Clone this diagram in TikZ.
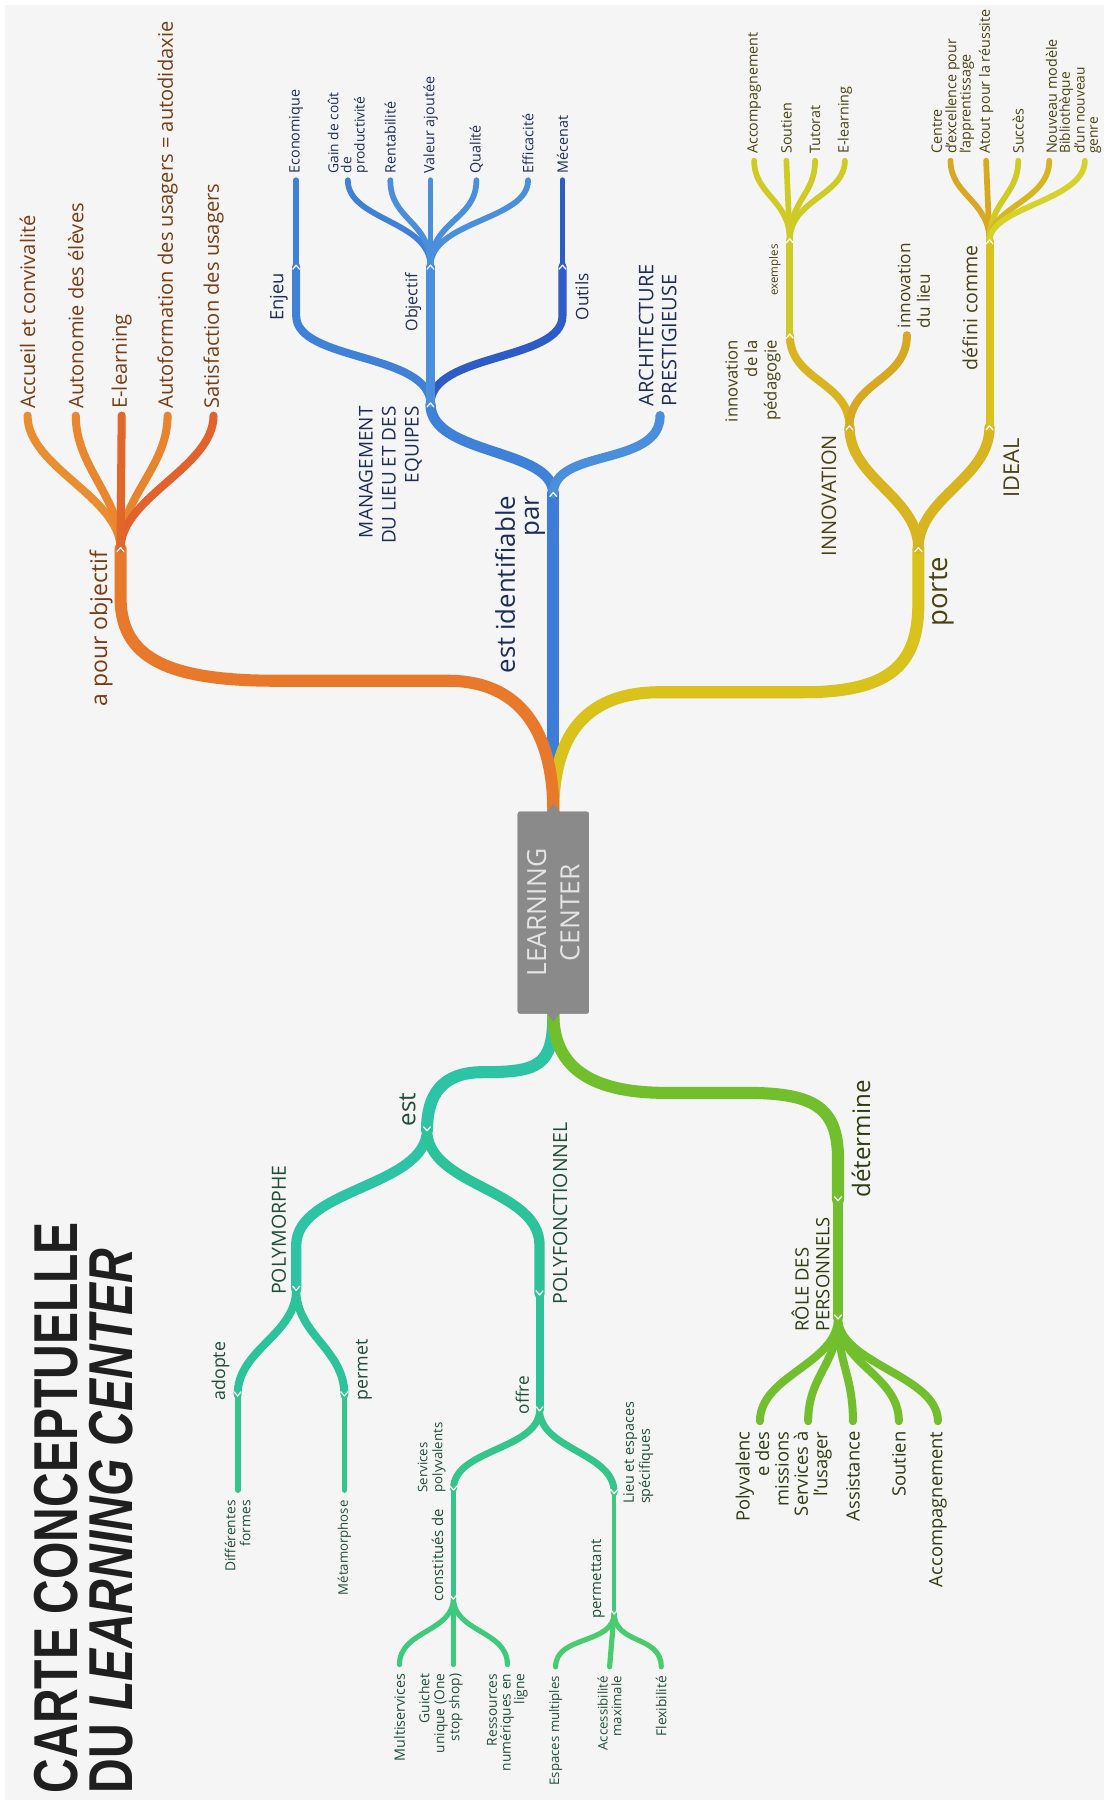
\documentclass[tikz,border=0pt]{standalone}
\usepackage{fontspec}
\usepackage{graphicx}
\setmainfont{Open Sans}
\newfontfamily\titlefont{Liberation Sans}
\definecolor{bgc}{HTML}{F5F5F5}
\definecolor{cBox}{HTML}{8A8A8A}
\definecolor{cBoxT}{HTML}{E4E4E4}
\definecolor{cOr}{HTML}{E8792A}
\definecolor{cOr1}{HTML}{EA8C30}
\definecolor{cOr2}{HTML}{E9862E}
\definecolor{cOr3}{HTML}{E2652A}
\definecolor{cOr4}{HTML}{E8832E}
\definecolor{cOr5}{HTML}{E3612A}
\definecolor{cOrT}{HTML}{7A3C12}
\definecolor{cBl}{HTML}{3B7DD8}
\definecolor{cBl2}{HTML}{3F80D9}
\definecolor{cBl3}{HTML}{4A8FDC}
\definecolor{cBl4}{HTML}{2E5CC7}
\definecolor{cBlT}{HTML}{1C2D58}
\definecolor{cYe}{HTML}{D9C21C}
\definecolor{cYe2}{HTML}{D8B520}
\definecolor{cYe3}{HTML}{D8A822}
\definecolor{cYe4}{HTML}{CFCB24}
\definecolor{cYe5}{HTML}{D6D22C}
\definecolor{cYeT}{HTML}{4A4210}
\definecolor{cTe}{HTML}{2CC4A4}
\definecolor{cTe2}{HTML}{2CC39A}
\definecolor{cTe3}{HTML}{33C58C}
\definecolor{cTe4}{HTML}{3DCA7C}
\definecolor{cTe5}{HTML}{48CC6E}
\definecolor{cTeT}{HTML}{1E4E38}
\definecolor{cGr}{HTML}{72BF2E}
\definecolor{cGrT}{HTML}{2E3C10}
\begin{document}
\begin{tikzpicture}[x=1pt,y=-1pt,
  br/.style={line width=#1, line cap=round},
  lab/.style={rotate=90, inner sep=0pt, outer sep=0pt},
  fs/.style 2 args={font=\fontsize{#1}{#2}\selectfont},
  chu/.pic={\draw[white,line width=1.1pt,line cap=round,line join=round] (-3,2.5) -- (0,-1) -- (3,2.5);},
  chd/.pic={\draw[white,line width=1.1pt,line cap=round,line join=round] (-3,-2.5) -- (0,1) -- (3,-2.5);}
]
\useasboundingbox (0,0) rectangle (962,1568);
\fill[white] (0,0) rectangle (962,1568);
\fill[bgc] (4,4) rectangle (962,1568);

% ---------- title ----------
\node[lab, anchor=north west, align=left, text=black!88,
      font={\titlefont\bfseries\fontsize{54}{48}\selectfont}] (title) at (30,1562)
  {\scalebox{0.775}[1]{CARTE CONCEPTUELLE}\\\scalebox{0.775}[1]{DU \textit{LEARNING CENTER}}};

% ---------- central box ----------
\node[rotate=90, fill=cBox, rounded corners=2, minimum width=176, minimum height=62,
      inner sep=0pt] (lc) at (482,795) {};
\coordinate (ct) at (lc.east);
\coordinate (cb) at (lc.west);

% ---------- blue ----------
\coordinate (b1) at (482,430);
\coordinate (b2) at (375,352);
\coordinate (b3) at (575,362);
\coordinate (e1) at (258,232);
\coordinate (ob) at (375,232);
\coordinate (ou) at (490,232);
\coordinate (bl1) at (258,157);
\coordinate (bl2) at (303,157);
\coordinate (bl3) at (340,157);
\coordinate (bl4) at (375,157);
\coordinate (bl5) at (415,157);
\coordinate (bl6) at (460,157);
\coordinate (bl7) at (490,157);
\draw[br=10.5, cBl] (ct) -- (b1);
\draw[br=9, cBl2] (b1) .. controls +(0,-40) and +(0,45) .. (b2);
\draw[br=8, cBl3] (b1) .. controls +(0,-40) and +(0,45) .. (b3);
\draw[br=7, cBl2] (b2) .. controls +(0,-45) and +(0,40) .. (258,275) -- (e1);
\draw[br=7, cBl4] (b2) .. controls +(0,-45) and +(0,40) .. (490,275) -- (ou);
\draw[br=7, cBl3] (b2) -- (ob);
\draw[br=5, cBl2] (e1) -- (bl1);
\draw[br=5, cBl4] (ou) -- (bl7);
\draw[br=5, cBl2] (ob) .. controls +(0,-40) and +(0,35) .. (bl2);
\draw[br=5, cBl3] (ob) .. controls +(0,-40) and +(0,35) .. (bl3);
\draw[br=5, cBl3] (ob) -- (bl4);
\draw[br=5, cBl3] (ob) .. controls +(0,-40) and +(0,35) .. (bl5);
\draw[br=5, cBl3] (ob) .. controls +(0,-40) and +(0,35) .. (bl6);

% ---------- yellow ----------
\coordinate (y1) at (800,478);
\coordinate (y2) at (740,372);
\coordinate (y3) at (862,372);
\coordinate (y4) at (688,292);
\coordinate (y5) at (790,292);
\coordinate (y6) at (688,209);
\coordinate (y7) at (862,210);
\coordinate (ya1) at (657,140);
\coordinate (ya2) at (685,140);
\coordinate (ya3) at (710,140);
\coordinate (ya4) at (736,140);
\coordinate (yb1) at (828,140);
\coordinate (yb2) at (859,140);
\coordinate (yb3) at (887,140);
\coordinate (yb4) at (914,140);
\coordinate (yb5) at (945,140);
\draw[br=10.5, cYe] (ct) .. controls +(0,-60) and +(-70,0) .. (575,603) -- (700,603) .. controls +(80,0) and +(0,50) .. (800,525) -- (y1);
\draw[br=9, cYe2] (y1) .. controls +(0,-45) and +(0,45) .. (y2);
\draw[br=9, cYe2] (y1) .. controls +(0,-45) and +(0,45) .. (y3);
\draw[br=7, cYe2] (y2) .. controls +(0,-40) and +(0,40) .. (y4);
\draw[br=7, cYe3] (y2) .. controls +(0,-40) and +(0,40) .. (y5);
\draw[br=6, cYe4] (y4) -- (y6);
\draw[br=7, cYe] (y3) -- (y7);
\draw[br=5, cYe4] (y6) .. controls +(0,-35) and +(0,30) .. (ya1);
\draw[br=5, cYe4] (y6) -- (ya2);
\draw[br=5, cYe4] (y6) .. controls +(0,-35) and +(0,30) .. (ya3);
\draw[br=5, cYe4] (y6) .. controls +(0,-35) and +(0,30) .. (ya4);
\draw[br=5, cYe3] (y7) .. controls +(0,-35) and +(0,30) .. (yb1);
\draw[br=5, cYe3] (y7) -- (yb2);
\draw[br=5, cYe4] (y7) .. controls +(0,-35) and +(0,30) .. (yb3);
\draw[br=5, cYe2] (y7) .. controls +(0,-30) and +(0,35) .. (yb4);
\draw[br=5, cYe5] (y7) .. controls +(0,-30) and +(0,35) .. (yb5);

% ---------- orange ----------
\coordinate (o1) at (105,478);
\coordinate (oa1) at (24,362);
\coordinate (oa2) at (66,362);
\coordinate (oa3) at (106,362);
\coordinate (oa4) at (146,362);
\coordinate (oa5) at (186,362);
\draw[br=10.5, cOr] (ct) .. controls +(0,-60) and +(70,0) .. (390,593) -- (240,593) .. controls +(-100,0) and +(0,50) .. (105,520) -- (o1);
\draw[br=7, cOr1] (o1) .. controls +(0,-45) and +(0,45) .. (oa1);
\draw[br=7, cOr2] (o1) .. controls +(0,-45) and +(0,45) .. (oa2);
\draw[br=7, cOr4] (o1) .. controls +(0,-45) and +(0,45) .. (oa4);
\draw[br=7, cOr5] (o1) .. controls +(0,-45) and +(0,45) .. (oa5);
\draw[br=7, cOr3] (o1) -- (oa3);

% ---------- teal ----------
\coordinate (t1) at (372,984);
\coordinate (t2) at (258,1123);
\coordinate (t3) at (470,1127);
\coordinate (t4) at (207,1215);
\coordinate (t5) at (300,1215);
\coordinate (t6) at (470,1228);
\coordinate (t7) at (395,1297);
\coordinate (t8) at (395,1392);
\coordinate (t9) at (535,1300);
\coordinate (t10) at (535,1405);
\coordinate (tl1) at (207,1298);
\coordinate (tl2) at (300,1298);
\coordinate (tc1) at (348,1450);
\coordinate (tc2) at (395,1450);
\coordinate (tc3) at (442,1450);
\coordinate (td1) at (484,1452);
\coordinate (td2) at (531,1452);
\coordinate (td3) at (576,1452);
\draw[br=10.5, cTe] (cb) .. controls +(0,45) and +(50,0) .. (420,934) .. controls +(-35,0) and +(0,-30) .. (t1);
\draw[br=9, cTe] (t1) .. controls +(0,50) and +(0,-50) .. (258,1085) -- (t2);
\draw[br=9, cTe2] (t1) .. controls +(0,50) and +(0,-50) .. (470,1085) -- (t3);
\draw[br=7, cTe2] (t2) .. controls +(0,40) and +(0,-40) .. (t4);
\draw[br=7, cTe2] (t2) .. controls +(0,40) and +(0,-40) .. (t5);
\draw[br=5, cTe3] (t4) -- (tl1);
\draw[br=5, cTe3] (t5) -- (tl2);
\draw[br=7, cTe2] (t3) -- (t6);
\draw[br=6, cTe3] (t6) .. controls +(0,35) and +(0,-35) .. (t7);
\draw[br=6, cTe3] (t6) .. controls +(0,35) and +(0,-35) .. (t9);
\draw[br=5, cTe3] (t7) -- (t8);
\draw[br=4, cTe4] (t9) -- (t10);
\draw[br=4.5, cTe4] (t8) .. controls +(0,30) and +(0,-30) .. (tc1);
\draw[br=4.5, cTe4] (t8) -- (tc2);
\draw[br=4.5, cTe4] (t8) .. controls +(0,30) and +(0,-30) .. (tc3);
\draw[br=4.5, cTe5] (t10) .. controls +(0,28) and +(0,-28) .. (td1);
\draw[br=4.5, cTe5] (t10) -- (td2);
\draw[br=4.5, cTe5] (t10) .. controls +(0,28) and +(0,-28) .. (td3);

% ---------- green ----------
\coordinate (g1) at (730,1045);
\coordinate (g2) at (730,1148);
\coordinate (ga1) at (662,1238);
\coordinate (ga2) at (704,1238);
\coordinate (ga3) at (743,1238);
\coordinate (ga4) at (783,1238);
\coordinate (ga5) at (817,1238);
\draw[br=10.5, cGr] (cb) .. controls +(0,50) and +(-60,0) .. (580,952) -- (650,952) .. controls +(60,0) and +(0,-45) .. (730,1010) -- (g1);
\draw[br=9, cGr] (g1) -- (g2);
\draw[br=7, cGr] (g2) .. controls +(0,40) and +(0,-40) .. (ga1);
\draw[br=7, cGr] (g2) .. controls +(0,40) and +(0,-40) .. (ga2);
\draw[br=7, cGr] (g2) .. controls +(0,40) and +(0,-40) .. (ga3);
\draw[br=7, cGr] (g2) .. controls +(0,40) and +(0,-40) .. (ga4);
\draw[br=7, cGr] (g2) .. controls +(0,40) and +(0,-40) .. (ga5);

% box on top of branch starts
\node[rotate=90, fill=cBox, rounded corners=2, minimum width=176, minimum height=62,
      inner sep=0pt, text=cBoxT, align=center, fs={23}{29}] (lc2) at (lc.center) {LEARNING\\CENTER};
\fill[cBox] (476,708) -- (482,700) -- (488,708) -- cycle;
\fill[cBox] (476,882) -- (482,890) -- (488,882) -- cycle;

% ---------- chevrons ----------
\foreach \p in {o1,b1,b2,e1,ob,ou,y1,y2,y3,y4,y6,y7} \pic at (\p) {chu};
\foreach \p in {t1,t2,t3,t4,t5,t6,t7,t8,t9,t10,g1,g2} \pic at (\p) {chd};

% ---------- orange labels ----------
\begin{scope}[every node/.style={lab, text=cOrT}]
\node[anchor=east, fs={20}{22}] (l-apo) at (88,480) {a pour objectif};
\node[anchor=west, fs={17.5}{20}] (l-acc) at ([yshift=6pt]oa1) {Accueil et convivalité};
\node[anchor=west, fs={17.5}{20}] (l-aut) at ([yshift=6pt]oa2) {Autonomie des élèves};
\node[anchor=west, fs={17.5}{20}] (l-el) at ([yshift=6pt]oa3) {E-learning};
\node[anchor=west, fs={17.5}{20}] (l-af) at ([yshift=6pt]oa4) {Autoformation des usagers = autodidaxie};
\node[anchor=west, fs={17.5}{20}] (l-sat) at ([yshift=6pt]oa5) {Satisfaction des usagers};
\end{scope}

% ---------- blue labels ----------
\begin{scope}[every node/.style={lab, text=cBlT}]
\node[anchor=east, align=right, fs={22.5}{21}] (l-eip) at (453,432) {est identifiable\\par};
\node[anchor=east, align=right, fs={16.5}{20}] (l-man) at (340,354) {MANAGEMENT\\DU LIEU ET DES\\EQUIPES};
\node[anchor=west, align=left, fs={17.5}{20}] (l-arc) at (573,354) {ARCHITECTURE\\PRESTIGIEUSE};
\node[anchor=east, fs={16}{18}] (l-enj) at (243,238) {Enjeu};
\node[anchor=east, fs={14}{16}] (l-obj) at (360,238) {Objectif};
\node[anchor=east, fs={15}{17}] (l-out) at (507,238) {Outils};
\node[anchor=west, fs={12.5}{14}] (l-eco) at ([yshift=6pt]bl1) {Economique};
\node[anchor=west, align=left, fs={12}{11.5}] (l-gain) at ([yshift=6pt]bl2) {Gain de coût\\de\\productivité};
\node[anchor=west, fs={12.5}{14}] (l-ren) at ([yshift=6pt]bl3) {Rentabilité};
\node[anchor=west, fs={12.5}{14}] (l-val) at ([yshift=6pt]bl4) {Valeur ajoutée};
\node[anchor=west, fs={12.5}{14}] (l-qua) at ([yshift=6pt]bl5) {Qualité};
\node[anchor=west, fs={12.5}{14}] (l-eff) at ([yshift=6pt]bl6) {Efficacité};
\node[anchor=west, fs={12.5}{14}] (l-mec) at ([yshift=6pt]bl7) {Mécenat};
\end{scope}

% ---------- yellow labels ----------
\begin{scope}[every node/.style={lab, text=cYeT}]
\node[anchor=east, fs={24}{26}] (l-por) at (820,485) {porte};
\node[anchor=east, fs={17.5}{19}] (l-inn) at (722,379) {INNOVATION};
\node[anchor=east, fs={19}{21}] (l-ide) at (881,382) {IDEAL};
\node[anchor=east, align=right, fs={14.5}{17}] (l-ipe) at (656,296) {innovation\\de la\\pédagogie};
\node[anchor=west, align=left, fs={15}{17}] (l-ili) at (796,286) {innovation\\du lieu};
\node[anchor=east, fs={10}{12}] (l-exe) at (675,213) {exemples};
\node[anchor=east, fs={17}{19}] (l-def) at (845,214) {défini comme};
\node[anchor=west, fs={12.5}{14}] (l-acc2) at ([yshift=6pt]ya1) {Accompagnement};
\node[anchor=west, fs={12.5}{14}] (l-sou) at ([yshift=6pt]ya2) {Soutien};
\node[anchor=west, fs={12.5}{14}] (l-tut) at ([yshift=6pt]ya3) {Tutorat};
\node[anchor=west, fs={12.5}{14}] (l-el2) at ([yshift=6pt]ya4) {E-learning};
\node[anchor=west, align=left, fs={12.5}{12.5}] (l-cen) at ([xshift=2pt,yshift=6pt]yb1) {Centre\\d'excellence pour\\l'apprentissage};
\node[anchor=west, fs={12.5}{14}] (l-ato) at ([yshift=6pt]yb2) {Atout pour la réussite};
\node[anchor=west, fs={12.5}{14}] (l-suc) at ([yshift=6pt]yb3) {Succès};
\node[anchor=west, fs={12.5}{14}] (l-nou) at ([xshift=2pt,yshift=6pt]yb4) {Nouveau modèle};
\node[anchor=west, align=left, fs={12}{11.5}] (l-bib) at ([xshift=-4pt,yshift=6pt]yb5) {Bibliothèque\\d'un nouveau\\genre};
\end{scope}

% ---------- teal labels ----------
\begin{scope}[every node/.style={lab, text=cTeT}]
\node[anchor=west, fs={21}{23}] (l-est) at (355,981) {est};
\node[anchor=west, fs={17}{19}] (l-pm) at (243,1128) {POLYMORPHE};
\node[anchor=west, fs={17}{19}] (l-pf) at (488,1136) {POLYFONCTIONNEL};
\node[anchor=west, fs={15.5}{17}] (l-ado) at (192,1220) {adopte};
\node[anchor=west, fs={15.5}{17}] (l-per) at (317,1220) {permet};
\node[anchor=east, align=right, fs={12}{13}] (l-dif) at ([yshift=-9pt]tl1) {Différentes\\formes};
\node[anchor=east, fs={11.5}{13}] (l-met) at ([yshift=-9pt]tl2) {Métamorphose};
\node[anchor=west, fs={15}{17}] (l-off) at (455,1232) {offre};
\node[anchor=west, align=left, fs={11.5}{13}] (l-ser) at (376,1300) {Services\\polyvalents};
\node[anchor=west, fs={13}{15}] (l-con) at (381,1395) {constitués de};
\node[anchor=east, fs={12.5}{14}] (l-mul) at ([yshift=-8pt]tc1) {Multiservices};
\node[anchor=east, align=right, fs={12}{13}] (l-gui) at ([xshift=-11pt,yshift=-8pt]tc2) {Guichet\\unique (One\\stop shop)};
\node[anchor=east, align=right, fs={12}{12}] (l-res) at ([yshift=-8pt]tc3) {Ressources\\numériques en\\ligne};
\node[anchor=west, align=left, fs={12.5}{14}] (l-lie) at (556,1310) {Lieu et espaces\\spécifiques};
\node[anchor=west, fs={13}{15}] (l-pmt) at (521,1410) {permettant};
\node[anchor=east, fs={11.5}{13}] (l-esp) at ([yshift=-8pt]td1) {Espaces multiples};
\node[anchor=east, align=right, fs={11.5}{12}] (l-acc3) at ([yshift=-8pt]td2) {Accessibilité\\maximale};
\node[anchor=east, fs={12}{13}] (l-fle) at ([yshift=-8pt]td3) {Flexibilité};
\end{scope}

% ---------- green labels ----------
\begin{scope}[every node/.style={lab, text=cGrT}]
\node[anchor=west, fs={21}{23}] (l-det) at (750,1043) {détermine};
\node[anchor=west, align=left, fs={16}{18}] (l-role) at (706,1160) {RÔLE DES\\PERSONNELS};
\node[anchor=east, align=right, fs={16}{17}] (l-pol) at ([xshift=2pt,yshift=-9pt]ga1) {Polyvalenc\\e des\\missions};
\node[anchor=east, align=right, fs={16}{17}] (l-svu) at ([xshift=4pt,yshift=-9pt]ga2) {Services à\\l'usager};
\node[anchor=east, fs={16}{18}] (l-ass) at ([yshift=-9pt]ga3) {Assistance};
\node[anchor=east, fs={16}{18}] (l-sou2) at ([yshift=-9pt]ga4) {Soutien};
\node[anchor=east, fs={16}{18}] (l-acc4) at ([yshift=-9pt]ga5) {Accompagnement};
\end{scope}
\end{tikzpicture}
\end{document}
